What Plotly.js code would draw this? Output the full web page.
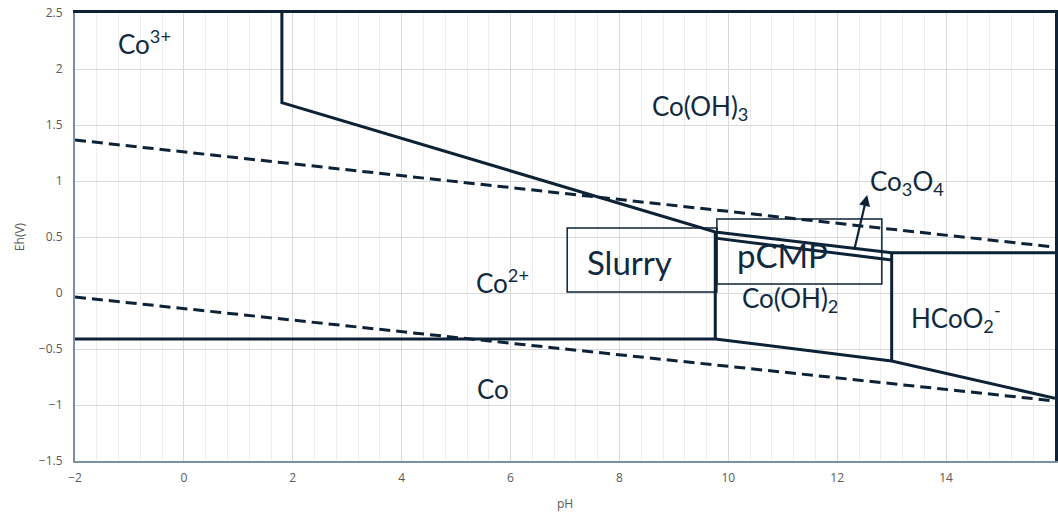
<!DOCTYPE html>
<html>
<head>
<meta charset="utf-8">
<script src="https://cdn.plot.ly/plotly-3.0.1.min.js"></script>
<style>
  html, body { margin: 0; padding: 0; background: #ffffff; }
  #chart { width: 1058px; height: 515px; }
</style>
</head>
<body>
<div id="chart"></div>
<script>
// Pourbaix (Eh–pH) diagram for cobalt in water

// Co3+ / Co(OH)3 boundary, continuing along the Co(OH)3 / Co3O4 / HCoO2- edge
const upperEdgePH = [1.8, 1.8, 9.76, 13, 16];
const upperEdgeEh = [2.5, 1.7, 0.545, 0.36, 0.36];

// Co2+ / Co(OH)2 vertical boundary
const co2EdgePH = [9.76, 9.76];
const co2EdgeEh = [0.545, -0.41];

// Co3O4 / Co(OH)2 boundary (lower side of the Co3O4 band)
const co3o4LowerPH = [9.76, 13];
const co3o4LowerEh = [0.49, 0.295];

// Co(OH)2 / HCoO2- vertical boundary
const hcoo2EdgePH = [13, 13];
const hcoo2EdgeEh = [0.36, -0.61];

// Metallic Co boundary
const coEdgePH = [-2, 9.76, 13, 16];
const coEdgeEh = [-0.41, -0.41, -0.607, -0.94];

// Water stability lines (O2 evolution above, H2 evolution below)
const waterUpperPH = [-2, 16];
const waterUpperEh = [1.366, 0.41];
const waterLowerPH = [-2, 16];
const waterLowerEh = [-0.036, -0.964];

// Process windows
const slurryBoxPH = [7.04, 9.79];
const slurryBoxEh = [0.01, 0.58];
const pcmpBoxPH = [9.79, 12.82];
const pcmpBoxEh = [0.08, 0.66];

// Arrow pointing at the Co3O4 band
const arrowTailPH = 12.31, arrowTailEh = 0.38;
const arrowHeadPH = 12.55, arrowHeadEh = 0.875;

// Region labels
const labelText = ['Co<sup>3+</sup>', 'Co(OH)<sub>3</sub>', 'Co<sub>3</sub>O<sub>4</sub>', 'Co<sup>2+</sup>',
                   'Co(OH)<sub>2</sub>', 'HCoO<sub>2</sub><sup>-</sup>', 'Co', 'Slurry', 'pCMP'];
const labelPH   = [-0.72, 9.48, 13.28, 5.86, 11.13, 14.18, 5.68, 8.19, 11.0];
const labelEh   = [2.24, 1.66, 0.99, 0.10, -0.06, -0.22, -0.86, 0.28, 0.34];
const labelSize = [26, 26, 26, 26, 26, 26, 26, 33, 33];

const ink = '#0d2236';
const textInk = '#10293f';

function solid(x, y) {
  return { x: x, y: y, type: 'scatter', mode: 'lines', hoverinfo: 'skip',
           line: { color: ink, width: 3 }, showlegend: false };
}
function dashed(x, y) {
  return { x: x, y: y, type: 'scatter', mode: 'lines', hoverinfo: 'skip',
           line: { color: ink, width: 3, dash: '11px,6px' }, showlegend: false };
}

const traces = [
  dashed(waterUpperPH, waterUpperEh),
  dashed(waterLowerPH, waterLowerEh),
  solid(upperEdgePH, upperEdgeEh),
  solid(co2EdgePH, co2EdgeEh),
  solid(co3o4LowerPH, co3o4LowerEh),
  solid(hcoo2EdgePH, hcoo2EdgeEh),
  solid(coEdgePH, coEdgeEh)
];

function box(px, eh) {
  return { type: 'rect', xref: 'x', yref: 'y', x0: px[0], x1: px[1], y0: eh[0], y1: eh[1],
           line: { color: ink, width: 1.5 }, fillcolor: 'rgba(0,0,0,0)', layer: 'above' };
}

const annotations = labelText.map((t, i) => ({
  x: labelPH[i], y: labelEh[i], xref: 'x', yref: 'y', text: t, showarrow: false,
  font: { family: 'Lato, "Open Sans", sans-serif', size: labelSize[i], color: textInk }
}));
annotations.push({
  x: arrowHeadPH, y: arrowHeadEh, ax: arrowTailPH, ay: arrowTailEh,
  xref: 'x', yref: 'y', axref: 'x', ayref: 'y', text: '', showarrow: true,
  arrowhead: 2, arrowsize: 1, arrowwidth: 2.2, arrowcolor: ink
});

const tickFont = { family: '"Open Sans", sans-serif', size: 12, color: '#595959' };

const layout = {
  width: 1058, height: 515,
  margin: { l: 75, r: 3, t: 13, b: 54 },
  paper_bgcolor: '#ffffff', plot_bgcolor: '#ffffff',
  font: tickFont,
  xaxis: {
    range: [-2, 16], dtick: 2, tick0: -2, zeroline: false,
    showgrid: true, gridcolor: '#d9d9d9', gridwidth: 1,
    minor: { dtick: 0.4, showgrid: true, gridcolor: '#eeeeee', gridwidth: 1 },
    showline: true, linecolor: '#7d8fa3', linewidth: 2,
    ticks: '', ticklabelstandoff: 5, tickfont: tickFont,
    title: { text: 'pH', font: tickFont, standoff: 14 }
  },
  yaxis: {
    range: [-1.5, 2.5], dtick: 0.5, tick0: -1.5, zeroline: false,
    showgrid: true, gridcolor: '#d9d9d9', gridwidth: 1,
    showline: true, linecolor: '#7d8fa3', linewidth: 2,
    ticks: '', ticklabelstandoff: 8, tickfont: tickFont,
    title: { text: 'Eh(V)', font: tickFont, standoff: 12 }
  },
  xaxis2: {
    overlaying: 'x', side: 'top', range: [-2, 16], showgrid: false, zeroline: false,
    showticklabels: false, ticks: '', showline: true, linecolor: ink, linewidth: 3
  },
  yaxis2: {
    overlaying: 'y', side: 'right', range: [-1.5, 2.5], showgrid: false, zeroline: false,
    showticklabels: false, ticks: '', showline: true, linecolor: ink, linewidth: 3
  },
  shapes: [box(slurryBoxPH, slurryBoxEh), box(pcmpBoxPH, pcmpBoxEh)],
  annotations: annotations,
  showlegend: false
};

// an invisible trace keeps the top/right frame axes drawn
traces.push({ x: [-2], y: [-1.5], xaxis: 'x2', yaxis: 'y2', type: 'scatter', mode: 'markers',
              marker: { opacity: 0 }, hoverinfo: 'skip', showlegend: false });

Plotly.newPlot('chart', traces, layout, { staticPlot: true, displayModeBar: false });
</script>
</body>
</html>
